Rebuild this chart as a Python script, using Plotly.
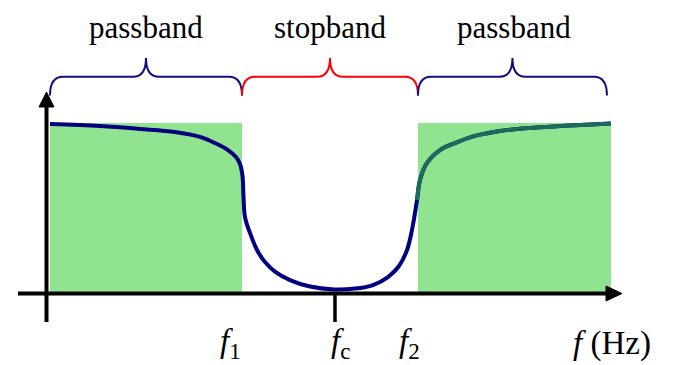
import plotly.graph_objects as go

# ---- data (frequency in arbitrary units, gain normalised: passband = 1) ----
freq = [0.053, 0.938, 1.646, 2.265, 2.708, 2.973, 3.204, 3.345, 3.416, 3.460,
        3.478, 3.504, 3.593, 3.717, 3.858, 4.035, 4.301, 4.655, 5.080, 5.451,
        5.770, 6.035, 6.230, 6.372, 6.460, 6.549, 6.602, 6.726, 6.956, 7.221,
        7.575, 8.018, 8.549, 9.080, 9.982]
gain = [0.994, 0.982, 0.965, 0.947, 0.918, 0.882, 0.841, 0.800, 0.759, 0.688,
        0.565, 0.447, 0.353, 0.253, 0.182, 0.126, 0.076, 0.038, 0.021, 0.026,
        0.047, 0.094, 0.159, 0.253, 0.371, 0.547, 0.665, 0.765, 0.841, 0.882,
        0.924, 0.953, 0.971, 0.982, 0.997]

f_start, f1, fc, f2, f_end = 0.053, 3.451, 5.097, 6.566, 9.982
band_names = ["passband", "stopband", "passband"]
band_edges = [(f_start, f1), (f1, f2), (f2, f_end)]
band_colors = ["#10107f", "#ff0000", "#10107f"]
tick_labels = ["<i>f</i><sub>1</sub>", "<i>f</i><sub>c</sub>", "<i>f</i><sub>2</sub>", "<i>f</i> (Hz)"]
tick_pos = [f1, fc, f2, 10.0]

W, H = 683, 365
# pixel <-> data mapping (layout only)
X0PX, XSCALE = 47.0, 56.5
Y0PX, YSCALE = 293.0, 170.0
def X(px):
    return (px - X0PX) / XSCALE
def Y(py):
    return (Y0PX - py) / YSCALE
def PX(x):
    return X0PX + x * XSCALE

fig = go.Figure()

shapes = []
# green passband rectangles
for (a, b) in [band_edges[0], band_edges[2]]:
    shapes.append(dict(type="rect", xref="x", yref="y", x0=a, x1=b, y0=0, y1=1.0,
                       fillcolor="#90e38f", line=dict(width=0), layer="below"))

# axes
shapes.append(dict(type="line", xref="x", yref="y", x0=X(18), x1=X(610), y0=Y(293.5), y1=Y(293.5),
                   line=dict(color="black", width=4)))
shapes.append(dict(type="line", xref="x", yref="y", x0=X(46.5), x1=X(46.5), y0=Y(322), y1=Y(105),
                   line=dict(color="black", width=4)))
shapes.append(dict(type="path", xref="x", yref="y",
                   path=f"M {X(606)},{Y(286)} L {X(622)},{Y(293.5)} L {X(606)},{Y(301)} Z",
                   fillcolor="black", line=dict(color="black", width=1)))
shapes.append(dict(type="path", xref="x", yref="y",
                   path=f"M {X(39)},{Y(107)} L {X(46.5)},{Y(92)} L {X(54)},{Y(107)} Z",
                   fillcolor="black", line=dict(color="black", width=1)))
# fc tick
shapes.append(dict(type="line", xref="x", yref="y", x0=fc, x1=fc, y0=Y(293.5), y1=Y(322),
                   line=dict(color="black", width=3.5)))

# braces
def brace(a, b, color):
    x0, x1 = PX(a), PX(b)
    xc = (x0 + x1) / 2
    r = 13
    ye, yh, yp = 95.5, 76.8, 58.0
    pts = (f"M {X(x0)},{Y(ye)} Q {X(x0)},{Y(yh)} {X(x0 + r)},{Y(yh)} "
           f"L {X(xc - r)},{Y(yh)} Q {X(xc)},{Y(yh)} {X(xc)},{Y(yp)} "
           f"Q {X(xc)},{Y(yh)} {X(xc + r)},{Y(yh)} "
           f"L {X(x1 - r)},{Y(yh)} Q {X(x1)},{Y(yh)} {X(x1)},{Y(ye)}")
    return dict(type="path", xref="x", yref="y", path=pts, line=dict(color=color, width=2))

for (a, b), c in zip([(f_start - 0.0, f1), (f1, f2), (f2, 9.91)], band_colors):
    shapes.append(brace(a, b, c))

# response curve
fig.add_trace(go.Scatter(x=freq, y=gain, mode="lines",
                         line=dict(color="#000080", width=4, shape="spline", smoothing=1.0),
                         hoverinfo="skip"))
i2 = next(i for i, f in enumerate(freq) if f >= 6.54)
fig.add_trace(go.Scatter(x=freq[i2:], y=gain[i2:], mode="lines",
                         line=dict(color="#1d6b5c", width=4, shape="spline", smoothing=1.0),
                         hoverinfo="skip"))

SERIF = "Liberation Serif, Times New Roman, serif"
annotations = []
for name, (a, b) in zip(band_names, band_edges):
    annotations.append(dict(x=(a + b) / 2, y=Y(27), xref="x", yref="y", text=name,
                            showarrow=False, xanchor="center", yanchor="middle",
                            font=dict(family=SERIF, size=31, color="black")))
label_offsets = [-0.2, 0.1, -0.15, 0.0]
for t, p, o in zip(tick_labels, tick_pos, label_offsets):
    annotations.append(dict(x=p + o, y=Y(343), xref="x", yref="y", text=t,
                            showarrow=False, xanchor="center", yanchor="middle",
                            font=dict(family=SERIF, size=33, color="black")))

fig.update_layout(
    width=W, height=H, margin=dict(l=0, r=0, t=0, b=0),
    paper_bgcolor="white", plot_bgcolor="white", showlegend=False,
    font=dict(family=SERIF),
    xaxis=dict(range=[X(0), X(W)], visible=False, fixedrange=True),
    yaxis=dict(range=[Y(H), Y(0)], visible=False, fixedrange=True),
    shapes=shapes, annotations=annotations,
)
fig.write_html("out.html", config=dict(displayModeBar=False),
               post_script="document.body.style.margin='0';document.body.style.overflow='hidden';")
